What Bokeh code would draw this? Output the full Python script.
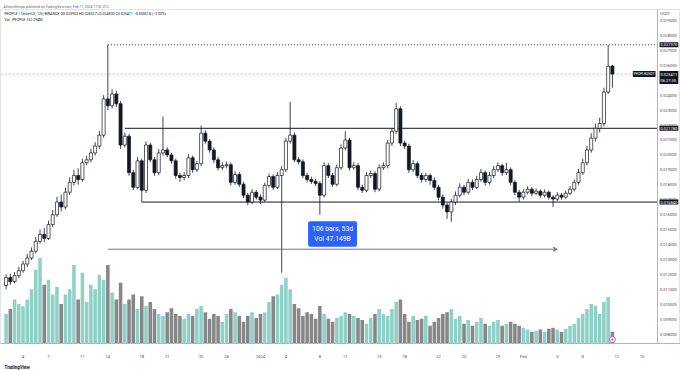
import pandas as pd
from bokeh.plotting import figure
from bokeh.models import Range1d, FixedTicker, Label, Span, Arrow, VeeHead, Title, ColumnDataSource
from bokeh.core.properties import value
from bokeh.embed import file_html
from bokeh.resources import INLINE

FONT = "Roboto"

# ---------------- data (12h candles, PEOPLE/USDT) ----------------
first_bar = "2023-12-02 00:00"
first_open = 0.01125
last_open = 0.025953

closes = [
    0.01178, 0.01151, 0.01191, 0.01224, 0.01269, 0.01309, 0.01355, 0.01421, 0.01467, 0.01441,
    0.01533, 0.01599, 0.01684, 0.01651, 0.01750, 0.01816, 0.01862, 0.01835, 0.01947, 0.01967,
    0.02013, 0.02059, 0.02132, 0.02375, 0.02329, 0.02408, 0.02342, 0.02066, 0.02125, 0.01881,
    0.01783, 0.01960, 0.01763, 0.02066, 0.01967, 0.01881, 0.02013, 0.02033, 0.02000, 0.01960,
    0.01862, 0.01849, 0.01862, 0.01980, 0.01901, 0.01941, 0.02145, 0.02092, 0.02033, 0.01967,
    0.01914, 0.01928, 0.01934, 0.01816, 0.01868, 0.01803, 0.01730, 0.01684, 0.01750, 0.01717,
    0.01697, 0.01796, 0.01855, 0.01783, 0.01862, 0.01901, 0.02092, 0.02132, 0.01967, 0.01954,
    0.01862, 0.01835, 0.01822, 0.01809, 0.01730, 0.01928, 0.01862, 0.01803, 0.01914, 0.02046,
    0.02099, 0.01914, 0.01928, 0.01783, 0.01763, 0.01862, 0.01875, 0.01770, 0.01914, 0.01928,
    0.02079, 0.02158, 0.02309, 0.02079, 0.02059, 0.01901, 0.01941, 0.01862, 0.01835, 0.01862,
    0.01829, 0.01783, 0.01717, 0.01664, 0.01618, 0.01684, 0.01730, 0.01783, 0.01750, 0.01816,
    0.01783, 0.01835, 0.01881, 0.01816, 0.01862, 0.01901, 0.01928, 0.01881, 0.01901, 0.01816,
    0.01750, 0.01717, 0.01750, 0.01770, 0.01743, 0.01757, 0.01730, 0.01750, 0.01717, 0.01704,
    0.01730, 0.01717, 0.01743, 0.01770, 0.01816, 0.01881, 0.01947, 0.02033, 0.02112, 0.02178,
    0.02210, 0.02421, 0.025929, 0.025411,
]

highs = [
    0.01200, 0.01205, 0.01215, 0.01250, 0.01290, 0.01335, 0.01380, 0.01450, 0.01500, 0.01510,
    0.01560, 0.01630, 0.01720, 0.01735, 0.01780, 0.01850, 0.01900, 0.01910, 0.01975, 0.01995,
    0.02040, 0.02085, 0.02160, 0.02400, 0.02737, 0.02440, 0.02430, 0.02360, 0.02150, 0.02140,
    0.01900, 0.01985, 0.01975, 0.02090, 0.02080, 0.01985, 0.02040, 0.02257, 0.02050, 0.02015,
    0.01975, 0.01880, 0.01885, 0.02005, 0.01995, 0.01960, 0.02197, 0.02165, 0.02105, 0.02050,
    0.01985, 0.01950, 0.01955, 0.01950, 0.01890, 0.01885, 0.01820, 0.01745, 0.01770, 0.01765,
    0.01735, 0.01815, 0.01875, 0.01870, 0.01885, 0.01925, 0.02115, 0.02355, 0.02150, 0.01985,
    0.01970, 0.01880, 0.01855, 0.01840, 0.01825, 0.01950, 0.01945, 0.01880, 0.01935, 0.02070,
    0.02158, 0.02115, 0.01950, 0.01945, 0.01800, 0.01885, 0.01895, 0.01890, 0.01935, 0.01950,
    0.02100, 0.02180, 0.02349, 0.02325, 0.02095, 0.02075, 0.01965, 0.01955, 0.01880, 0.01880,
    0.01875, 0.01850, 0.01800, 0.01735, 0.01680, 0.01705, 0.01755, 0.01810, 0.01800, 0.01840,
    0.01835, 0.01860, 0.01905, 0.01895, 0.01885, 0.01925, 0.01950, 0.01940, 0.01947, 0.01915,
    0.01830, 0.01765, 0.01770, 0.01790, 0.01785, 0.01775, 0.01770, 0.01768, 0.01762, 0.01730,
    0.01750, 0.01745, 0.01760, 0.01790, 0.01835, 0.01905, 0.01975, 0.02060, 0.02145, 0.02210,
    0.02250, 0.02450, 0.02737, 0.026027,
]

lows = [
    0.01100, 0.01130, 0.01140, 0.01175, 0.01210, 0.01250, 0.01295, 0.01340, 0.01405, 0.01415,
    0.01430, 0.01515, 0.01585, 0.01620, 0.01635, 0.01730, 0.01795, 0.01800, 0.01820, 0.01930,
    0.01950, 0.01995, 0.02040, 0.02115, 0.02300, 0.02310, 0.02320, 0.02040, 0.02050, 0.01860,
    0.01765, 0.01770, 0.01684, 0.01745, 0.01950, 0.01860, 0.01865, 0.01995, 0.01985, 0.01940,
    0.01840, 0.01820, 0.01830, 0.01845, 0.01880, 0.01885, 0.01925, 0.02075, 0.02015, 0.01945,
    0.01895, 0.01900, 0.01910, 0.01795, 0.01800, 0.01785, 0.01710, 0.01664, 0.01670, 0.01700,
    0.01671, 0.01685, 0.01780, 0.01765, 0.01770, 0.01211, 0.01885, 0.02075, 0.01950, 0.01935,
    0.01845, 0.01815, 0.01805, 0.01790, 0.01599, 0.01715, 0.01845, 0.01785, 0.01790, 0.01900,
    0.02030, 0.01895, 0.01900, 0.01765, 0.01745, 0.01750, 0.01845, 0.01750, 0.01755, 0.01900,
    0.01910, 0.02060, 0.02140, 0.02060, 0.02040, 0.01880, 0.01885, 0.01845, 0.01815, 0.01820,
    0.01800, 0.01765, 0.01695, 0.01640, 0.01572, 0.01552, 0.01665, 0.01715, 0.01730, 0.01735,
    0.01765, 0.01770, 0.01820, 0.01795, 0.01800, 0.01845, 0.01885, 0.01860, 0.01865, 0.01795,
    0.01730, 0.01684, 0.01700, 0.01735, 0.01725, 0.01730, 0.01712, 0.01715, 0.01700, 0.01651,
    0.01690, 0.01700, 0.01705, 0.01730, 0.01755, 0.01800, 0.01865, 0.01930, 0.02015, 0.02090,
    0.02150, 0.02190, 0.02408, 0.02450,
]

volumes_m = [
    380, 445, 570, 510, 480, 570, 700, 950, 1105, 760,
    825, 635, 735, 510, 635, 700, 1015, 570, 915, 535,
    760, 700, 890, 825, 1015, 660, 570, 785, 510, 570,
    635, 445, 610, 485, 535, 445, 380, 355, 405, 455,
    380, 355, 320, 380, 355, 445, 485, 405, 320, 380,
    355, 280, 380, 445, 405, 355, 280, 355, 405, 330,
    380, 405, 535, 610, 635, 760, 850, 700, 510, 455,
    355, 405, 380, 320, 485, 380, 320, 280, 330, 355,
    405, 380, 355, 330, 305, 255, 330, 380, 445, 380,
    355, 445, 535, 570, 380, 280, 355, 305, 320, 355,
    230, 280, 330, 380, 405, 445, 320, 355, 255, 305,
    230, 280, 330, 255, 230, 280, 305, 230, 255, 280,
    255, 230, 205, 180, 150, 165, 180, 150, 190, 205,
    180, 150, 190, 230, 255, 330, 380, 445, 510, 485,
    380, 535, 600, 152.294,
]

x_tick_dates = ["2023-12-04", "2023-12-07", "2023-12-11", "2023-12-14", "2023-12-18",
                "2023-12-21", "2023-12-25", "2023-12-28", "2024-01-01", "2024-01-04",
                "2024-01-08", "2024-01-11", "2024-01-15", "2024-01-18", "2024-01-22",
                "2024-01-25", "2024-01-29", "2024-02-01", "2024-02-05", "2024-02-08",
                "2024-02-12", "2024-02-15"]
x_tick_labels = ["4", "7", "11", "14", "18", "21", "25", "28", "2024", "4", "8", "11",
                 "15", "18", "22", "25", "29", "Feb", "5", "8", "12", "15"]

price_ticks = [0.02948, 0.029, 0.028, 0.027, 0.026, 0.025, 0.024, 0.023, 0.022, 0.021,
               0.020, 0.019, 0.018, 0.017, 0.016, 0.015, 0.014, 0.013, 0.012, 0.011,
               0.010, 0.009, 0.008]
price_tick_labels = ["USDT", "0.029000", "0.028000", "0.027000", "0.026000", "0.025000",
                     "0.024000", "0.023000", "0.022000", "0.021000", "0.020000", "0.019000",
                     "0.018000", "0.017000", "0.016000", "0.015000", "0.014000", "0.013000",
                     "0.012000", "0.011000", "0.010000", "0.009000", "0.008000"]

prev_high = 0.02737
prev_high_start = "2023-12-14 00:00"
resistance = 0.02178
resistance_start = "2023-12-16 00:00"
support = 0.01684
support_start = "2023-12-18 00:00"

range_start = "2023-12-14 00:00"
range_end = "2024-02-05 00:00"
range_price = 0.01368
range_label_price = 0.0147
range_text = "106 bars, 53d\nVol 47.149B"

header_text = "AltcoinSherpa published on TradingView.com, Feb 11, 2024 17:32 UTC"
legend_text = "PEOPLE / TetherUS, 12h, BINANCE  O0.025953 H0.026027 L0.024500 C0.025411 \u22120.000518 (\u22122.00%)"
vol_text = "Vol \u00b7 PEOPLE  152.294M"
symbol_tag = "PEOPLEUSDT"
countdown = "06:27:35"


def ms(s):
    return pd.Timestamp(s).value / 1e6


# ---------------- derived columns ----------------
opens = [first_open] + closes[:-1]
opens[-1] = last_open
times = pd.date_range(first_bar, periods=len(closes), freq="12h")
up = [c >= o for o, c in zip(opens, closes)]

src = ColumnDataSource(dict(
    t=times,
    o=opens, c=closes, h=highs, l=lows,
    top=[max(o, c) for o, c in zip(opens, closes)],
    bot=[min(o, c) for o, c in zip(opens, closes)],
    body=["#ffffff" if u else "#131722" for u in up],
    vol=volumes_m,
    vcol=["#8fd1c7" if u else "#878787" for u in up],
))

W, H = 680, 370
x_start, x_end = ms("2023-12-01 08:10"), ms("2024-02-19 12:43")
pane_end = ms("2024-02-16 19:41")           # chart pane / price scale border
y_start, y_end = 0.007366, 0.029738
ms_per_px = (x_end - x_start) / W

p = figure(width=W, height=H, x_axis_type="datetime", y_axis_location=None,
           x_range=Range1d(x_start, x_end), y_range=Range1d(y_start, y_end),
           output_backend="svg", toolbar_location=None,
           min_border_left=0, min_border_right=0, min_border_top=9, min_border_bottom=21,
           background_fill_color="white", border_fill_color="white",
           outline_line_color="#e0e3eb", outline_line_width=1)
p.extra_y_ranges = {"vol": Range1d(0, 4318)}
p.grid.grid_line_color = None

p.title.text = header_text
p.title.text_font = FONT
p.title.text_font_size = "3.4px"
p.title.text_font_style = "normal"
p.title.text_color = "#5d606b"
p.title.align = "left"
p.title.offset = 3
p.title.standoff = 1

p.add_layout(Title(text="TradingView", text_font=FONT, text_font_size="4.5px",
                   text_font_style="bold", text_color="#131722", align="left",
                   offset=4, standoff=2), "below")

# x axis
x_ticks = [ms(d) for d in x_tick_dates]
p.xaxis.ticker = FixedTicker(ticks=x_ticks)
p.xaxis.major_label_overrides = {t: l for t, l in zip(x_ticks, x_tick_labels)}
p.xaxis.major_label_text_font = FONT
p.xaxis.major_label_text_font_size = "4px"
p.xaxis.major_label_text_color = "#4a4d57"
p.xaxis.major_label_standoff = 4
p.xaxis.axis_line_color = "#b2b5be"
p.xaxis.major_tick_line_color = None
p.xaxis.minor_tick_line_color = None

# price scale border and labels
p.add_layout(Span(location=pane_end, dimension="height", line_color="#b2b5be", line_width=1))
p.text(x=[pane_end + 2.5 * ms_per_px] * len(price_ticks), y=price_ticks, text=price_tick_labels,
       text_font=value(FONT), text_font_size=value("4px"), text_color="#4a4d57",
       text_baseline="middle", text_align="left")

# volume
bar_day = 86400000
p.vbar(x="t", top="vol", bottom=0, width=0.42 * bar_day, source=src,
       fill_color="vcol", line_color=None, y_range_name="vol")

# level lines
p.segment(x0=[ms(prev_high_start)], y0=[prev_high], x1=[pane_end], y1=[prev_high],
          line_color="#131722", line_width=0.9, line_dash="1 2")
p.segment(x0=[ms(resistance_start), ms(support_start)], y0=[resistance, support],
          x1=[pane_end, pane_end], y1=[resistance, support],
          line_color="#131722", line_width=1)
p.segment(x0=[x_start], y0=[closes[-1]], x1=[pane_end], y1=[closes[-1]],
          line_color="#9598a1", line_width=0.6, line_dash="2 2")

# candles
p.segment(x0="t", y0="l", x1="t", y1="h", source=src, line_color="#131722", line_width=0.8)
p.vbar(x="t", top="top", bottom="bot", width=0.36 * bar_day, source=src,
       fill_color="body", line_color="#131722", line_width=0.7)

# date range tool
p.add_layout(Arrow(end=VeeHead(size=4, line_color="#50535e", line_width=0.8, fill_color=None),
                   x_start=ms(range_start), y_start=range_price,
                   x_end=ms(range_end), y_end=range_price,
                   line_color="#50535e", line_width=0.8))
p.add_layout(Label(x=(ms(range_start) + ms(range_end)) / 2, y=range_label_price,
                   text=range_text, text_align="center", text_baseline="middle",
                   text_font=FONT, text_font_size="6.8px", text_color="white",
                   background_fill_color="#2962ff", padding=4, border_radius=2))

# legend in pane
p.add_layout(Label(x=x_start + 4 * ms_per_px, y=0.02947, text=legend_text,
                   text_font=FONT, text_font_size="3.6px", text_color="#131722",
                   text_baseline="middle"))
p.add_layout(Label(x=x_start + 4 * ms_per_px, y=0.02905, text=vol_text,
                   text_font=FONT, text_font_size="3.6px", text_color="#131722",
                   text_baseline="middle"))

# price-scale tags
tag_x = pane_end + 2 * ms_per_px
for yv, txt in [(prev_high, "0.027370"), (resistance, "0.021780"), (support, "0.016840")]:
    p.add_layout(Label(x=tag_x, y=yv, text=txt, text_align="left", text_baseline="middle",
                       text_font=FONT, text_font_size="4px", text_color="white",
                       background_fill_color="#131722", padding=1))
p.add_layout(Label(x=tag_x, y=closes[-1] - 0.00022, text="%.6f\n%s" % (closes[-1], countdown),
                   text_align="left", text_baseline="middle",
                   text_font=FONT, text_font_size="4px", text_color="white",
                   background_fill_color="#131722", padding=1))
p.add_layout(Label(x=pane_end - 2 * ms_per_px, y=closes[-1], text=symbol_tag,
                   text_align="right", text_baseline="middle",
                   text_font=FONT, text_font_size="3.4px", text_color="white",
                   background_fill_color="#131722", padding=1))

# small event icon at last bar
last_t = ms(str(times[-1]))
p.scatter(x=[last_t], y=[0.00763], marker="circle", size=6, fill_color="white",
          line_color="#b84fe0", line_width=1)
p.scatter(x=[last_t], y=[0.00763], marker="circle", size=2, fill_color="#e5393f",
          line_color=None)

open("out.html", "w").write(file_html(p, INLINE))
